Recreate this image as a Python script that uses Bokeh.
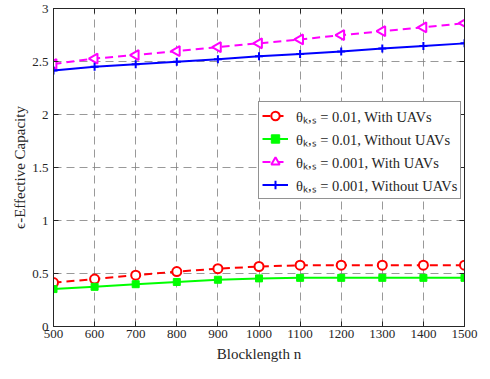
from bokeh.plotting import figure
from bokeh.models import Legend, LegendItem, FixedTicker, Range1d, LinearAxis
from bokeh.embed import file_html
from bokeh.resources import INLINE

n = [500, 600, 700, 800, 900, 1000, 1100, 1200, 1300, 1400, 1500]
red_with = [0.414, 0.447, 0.484, 0.518, 0.545, 0.566, 0.578, 0.578, 0.578, 0.578, 0.578]
green_without = [0.353, 0.374, 0.399, 0.420, 0.441, 0.454, 0.459, 0.459, 0.459, 0.459, 0.459]
mag_with = [2.476, 2.528, 2.561, 2.598, 2.635, 2.672, 2.708, 2.749, 2.786, 2.822, 2.862]
blue_without = [2.414, 2.451, 2.473, 2.497, 2.522, 2.549, 2.570, 2.595, 2.623, 2.647, 2.671]

labels = ["θₖ,ₛ = 0.01, With UAVs", "θₖ,ₛ = 0.01, Without UAVs",
          "θₖ,ₛ = 0.001, With UAVs", "θₖ,ₛ = 0.001, Without UAVs"]
x_ticks = n
y_ticks = [0, 0.5, 1, 1.5, 2, 2.5, 3]
y_tick_labels = ["0", "0.5", "1", "1.5", "2", "2.5", "3"]

FONT = "Liberation Serif"

p = figure(width=482, height=371, output_backend="svg", toolbar_location=None,
           x_range=Range1d(500, 1500), y_range=Range1d(0, 3),
           min_border_top=8, min_border_left=53, min_border_right=18, min_border_bottom=45)

p.xaxis.axis_label = "Blocklength n"
p.yaxis.axis_label = "ϵ-Effective Capacity"
for ax in [p.xaxis[0], p.yaxis[0]]:
    ax.axis_label_text_font = FONT
    ax.axis_label_text_font_style = "normal"
    ax.axis_label_text_font_size = "15px"
    ax.axis_label_text_color = "#262626"
    ax.major_label_text_font = FONT
    ax.major_label_text_font_size = "13px"
    ax.major_label_text_color = "#262626"
    ax.major_tick_in = 5
    ax.major_tick_out = 0
    ax.minor_tick_in = 0
    ax.minor_tick_out = 0
    ax.axis_line_color = "#262626"
    ax.major_tick_line_color = "#262626"
p.xaxis.ticker = FixedTicker(ticks=x_ticks)
p.yaxis.ticker = FixedTicker(ticks=y_ticks)
p.yaxis.major_label_overrides = {t: l for t, l in zip(y_ticks, y_tick_labels)}
p.xaxis.axis_label_standoff = 5
p.yaxis.axis_label_standoff = 1
p.xaxis.major_label_standoff = 3
p.yaxis.major_label_standoff = 5
p.outline_line_color = "#262626"

# mirrored inward ticks on the top and right edges (box on), no labels
top_ax = LinearAxis(ticker=FixedTicker(ticks=x_ticks),
                    major_label_overrides={t: "" for t in x_ticks},
                    major_tick_in=5, major_tick_out=0, minor_tick_in=0, minor_tick_out=0,
                    major_label_standoff=0,
                    axis_line_color="#262626", major_tick_line_color="#262626")
right_ax = LinearAxis(ticker=FixedTicker(ticks=y_ticks),
                      major_label_overrides={t: "" for t in y_ticks},
                      major_tick_in=5, major_tick_out=0, minor_tick_in=0, minor_tick_out=0,
                      major_label_standoff=0,
                      axis_line_color="#262626", major_tick_line_color="#262626")
p.add_layout(top_ax, "above")
p.add_layout(right_ax, "right")

p.xgrid.ticker = FixedTicker(ticks=x_ticks)
p.ygrid.ticker = FixedTicker(ticks=y_ticks)
for g in [p.xgrid[0], p.ygrid[0]]:
    g.grid_line_color = "#808080"
    g.grid_line_alpha = 0.8
    g.grid_line_dash = "8 5"
    g.grid_line_width = 1

r1l = p.line(n, red_with, line_color="#FF0000", line_width=2, line_dash="8 5")
r1m = p.scatter(n, red_with, marker="circle", size=9, fill_color="white",
                line_color="#FF0000", line_width=2)
r2l = p.line(n, green_without, line_color="#00FF00", line_width=2)
r2m = p.scatter(n, green_without, marker="square", size=7, fill_color="#00FF00",
                line_color="#00FF00", line_width=1)
r3l = p.line(n, mag_with, line_color="#FF00FF", line_width=2, line_dash="8 5")
r3m = p.scatter(n, mag_with, marker="triangle", angle=1.5708, size=10, fill_color="white",
                line_color="#FF00FF", line_width=2)
r4l = p.line(n, blue_without, line_color="#0000FF", line_width=2)
r4m = p.scatter(n, blue_without, marker="cross", size=8, line_color="#0000FF", line_width=2)

legend = Legend(items=[
    LegendItem(label=labels[0], renderers=[r1l, r1m]),
    LegendItem(label=labels[1], renderers=[r2l, r2m]),
    LegendItem(label=labels[2], renderers=[r3l, r3m]),
    LegendItem(label=labels[3], renderers=[r4l, r4m]),
], location=(205, 127))
legend.label_text_font = FONT
legend.label_text_font_size = "14.5px"
legend.label_text_color = "#262626"
legend.glyph_width = 26
legend.glyph_height = 21
legend.label_standoff = 8
legend.spacing = 2
legend.padding = 3
legend.margin = 0
legend.border_line_color = "#262626"
legend.border_line_width = 1
legend.background_fill_alpha = 1
p.add_layout(legend, "center")

open("out.html", "w").write(file_html(p, INLINE))
